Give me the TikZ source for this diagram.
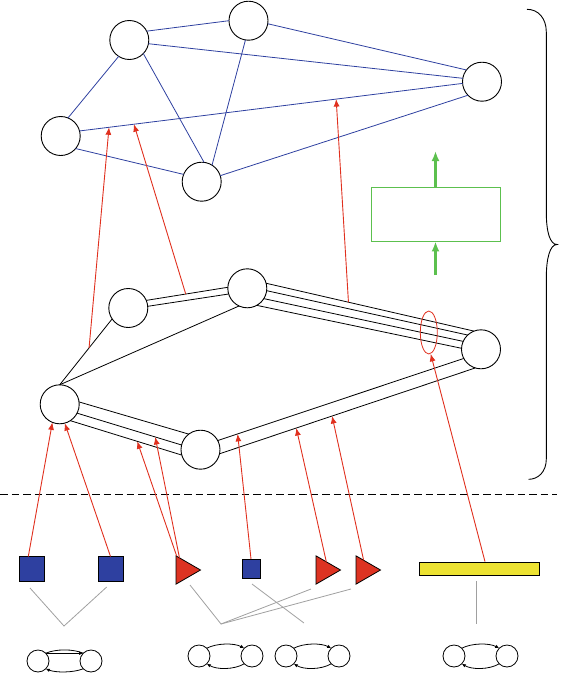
\documentclass[tikz,border=0pt]{standalone}
\usetikzlibrary{calc,shapes.geometric,arrows.meta}
\definecolor{eblue}{HTML}{2E40A0}
\definecolor{ered}{HTML}{E0301E}
\definecolor{tred}{HTML}{DD3322}
\definecolor{eyel}{HTML}{ECE232}
\definecolor{egreen}{HTML}{5CC04E}
\definecolor{egray}{HTML}{A0A0A0}
\begin{document}
\begin{tikzpicture}[x=1pt,y=-1pt,
  big/.style={circle,draw,line width=0.9pt,minimum size=39pt,inner sep=0pt,outer sep=0pt,fill=white},
  small/.style={circle,draw,line width=0.8pt,minimum size=22pt,inner sep=0pt,outer sep=0pt},
  bl/.style={draw=eblue,line width=0.8pt},
  bk/.style={draw=black,line width=0.8pt},
  rarr/.style={draw=ered,line width=0.9pt,-{Latex[length=7.5pt,width=6pt]}},
  garr/.style={draw=egreen,line width=2.4pt,-{Latex[length=10pt,width=8pt]}},
  gry/.style={draw=egray,line width=0.8pt},
  sqbox/.style={rectangle,draw,fill=eblue,line width=0.8pt,inner sep=0pt,outer sep=0pt},
  tri/.style={regular polygon,regular polygon sides=3,shape border rotate=-90,draw,fill=tred,line width=0.8pt,inner sep=0pt,outer sep=0pt,minimum size=32.6pt},
  sarr/.style={line width=0.8pt,-{Latex[length=4pt,width=3.5pt]}},
  sline/.style={line width=0.8pt},
]
\useasboundingbox (0,0) rectangle (564,673);

% ---- top layer
\node[big] (A) at (129.3,40) {};
\node[big] (B) at (248.5,20.7) {};
\node[big] (C) at (60.7,136) {};
\node[big] (D) at (201.7,181.7) {};
\node[big] (E) at (482,81.7) {};
\draw[bl] (A.27) -- (B.180);
\draw[bl] (A.349) -- (E.170);
\draw[bl] (A.316) -- (D.83);
\draw[bl] (A.237) -- (C.68);
\draw[bl] (B.261) -- (D.58);
\draw[bl] (B.351) -- (E.143);
\draw[bl] (C.15) -- (E.185);
\draw[bl] (C.320) -- (D.158);
\draw[bl] (D.18) -- (E.224);

% ---- middle layer
\node[big] (F) at (128.3,308) {};
\node[big] (G) at (247.3,288.3) {};
\node[big] (H) at (59.7,404.3) {};
\node[big] (I) at (200.5,449.7) {};
\node[big] (J) at (481,349.3) {};
\draw[bk] (F.214) -- (H.90);
\draw[bk] (G.245) -- (H.90);
\draw[bk] (F.23) -- (G.177);
\draw[bk] (F.5) -- (G.197);
\draw[bk] (G.15) -- (J.111);
\draw[bk] (G.353) -- (J.133);
\draw[bk] (G.328) -- (J.156);
\draw[bk] (G.299) -- (J.177);
\draw[bk] (H.7) -- (I.127);
\draw[bk] (H.333) -- (I.166);
\draw[bk] (H.303) -- (I.196);
\draw[bk] (I.28) -- (J.208);
\draw[bk] (I.348) -- (J.253);

\node[ellipse,draw=ered,line width=0.8pt,minimum width=17pt,minimum height=43pt,inner sep=0pt] (ell) at (428.8,332.5) {};

% ---- green box
\node[draw=egreen,line width=0.9pt,minimum width=129pt,minimum height=54pt,inner sep=0pt] (gbox) at (435.5,214) {};
\coordinate (gtop) at (435.5,151);
\coordinate (gbot) at (435.5,275);
\draw[garr] (gbox.north) -- (gtop);
\draw[garr] (gbot) -- (gbox.south);

% ---- brace
\draw[line width=0.9pt] (527,9.3) .. controls (538,9.3) and (546.3,18) .. (546.3,32) -- (546.3,212) .. controls (546.3,232) and (550,244.5) .. (557,244.5) .. controls (550,244.5) and (546.3,258) .. (546.3,278) -- (546.3,459) .. controls (546.3,472) and (538,479.3) .. (528.7,479.3);

% ---- dashed separator
\coordinate (dl) at (0,494.5);
\coordinate (dr) at (557,494.5);
\draw[dash pattern=on 7.5pt off 4pt,line width=0.8pt] (dl) -- (dr);

% ---- bottom shapes
\node[sqbox,minimum size=25pt] (s1) at (31.5,569) {};
\node[sqbox,minimum size=25pt] (s2) at (110.5,569) {};
\node[tri] (t1) at (184.2,570) {};
\node[sqbox,minimum width=18pt,minimum height=19pt] (s3) at (251,568.5) {};
\node[tri] (t2) at (324.2,570) {};
\node[tri] (t3) at (364.2,570) {};
\node[rectangle,draw,fill=eyel,line width=0.8pt,minimum width=120pt,minimum height=13pt,inner sep=0pt] (yb) at (479,568.5) {};

% ---- gray grouping lines
\coordinate (ga1) at (30,588);
\coordinate (gv1) at (64,626);
\coordinate (ga2) at (106.7,587);
\draw[gry] (ga1) -- (gv1) -- (ga2);
\coordinate (gb1) at (190,585);
\coordinate (gv2) at (221,624);
\coordinate (gb2) at (311,589);
\coordinate (gb3) at (351,589);
\draw[gry] (gb1) -- (gv2) -- (gb2);
\draw[gry] (gv2) -- (gb3);
\coordinate (gc1) at (252,584);
\coordinate (gv3) at (304,623);
\draw[gry] (gc1) -- (gv3);
\coordinate (gd1) at (476,581);
\coordinate (gv4) at (476,624);
\draw[gry] (gd1) -- (gv4);

% ---- small graphs
\node[small] (g1l) at (38,661) {};
\node[small] (g1r) at (91,661) {};
\draw[sarr] (g1l.45) -- (g1r.135);
\draw[sline] (g1l.45) .. controls ($(g1l.45)+(10,-4.4)$) and ($(g1r.135)+(-10,-4.4)$) .. (g1r.135);
\draw[sarr] (g1r.225) .. controls ($(g1r.225)+(-10,4)$) and ($(g1l.315)+(10,4)$) .. (g1l.315);
\foreach \n/\xl/\xr in {2/199/252,3/286/339,4/454/507}{
  \node[small] (g\n l) at (\xl,656) {};
  \node[small] (g\n r) at (\xr,656) {};
  \draw[sarr] (g\n l.45) .. controls ($(g\n l.45)+(10,-5.3)$) and ($(g\n r.135)+(-10,-5.3)$) .. (g\n r.135);
  \draw[sarr] (g\n r.225) .. controls ($(g\n r.225)+(-10,6)$) and ($(g\n l.315)+(10,6)$) .. (g\n l.315);
}

% ---- red arrows, middle -> top
\coordinate (p1) at ($(F.214)!0.44!(H.90)$);
\coordinate (q1) at ($(C.15)!0.077!(E.185)$);
\coordinate (p2) at ($(F.23)!0.484!(G.177)$);
\coordinate (q2) at ($(C.15)!0.142!(E.185)$);
\coordinate (p3) at ($(G.15)!0.396!(J.111)$);
\coordinate (q3) at ($(C.15)!0.67!(E.185)$);
\draw[rarr] (p1) -- (q1);
\draw[rarr] (p2) -- (q2);
\draw[rarr] (p3) -- (q3);

% ---- red arrows, bottom -> middle
\coordinate (r1) at ($(H.303)!0.60!(I.196)$);
\coordinate (r2) at ($(H.333)!0.748!(I.166)$);
\coordinate (r3) at ($(I.28)!0.081!(J.208)$);
\coordinate (r4) at ($(I.348)!0.30!(J.253)$);
\coordinate (r5) at ($(I.348)!0.44!(J.253)$);
\draw[rarr] ([xshift=-3.2pt]s1.north) -- (H.248);
\draw[rarr] (s2.north) -- (H.285);
\draw[rarr] ($(t1.corner 2)!0.03!(t1.corner 1)$) -- (r1);
\draw[rarr] ($(t1.corner 2)!0.14!(t1.corner 1)$) -- (r2);
\draw[rarr] (s3.north) -- (r3);
\draw[rarr] ($(t2.corner 2)!0.42!(t2.corner 1)$) -- (r4);
\draw[rarr] ($(t3.corner 2)!0.31!(t3.corner 1)$) -- (r5);
\draw[rarr] ([xshift=6pt]yb.north) -- (ell.-85);
\end{tikzpicture}
\end{document}
